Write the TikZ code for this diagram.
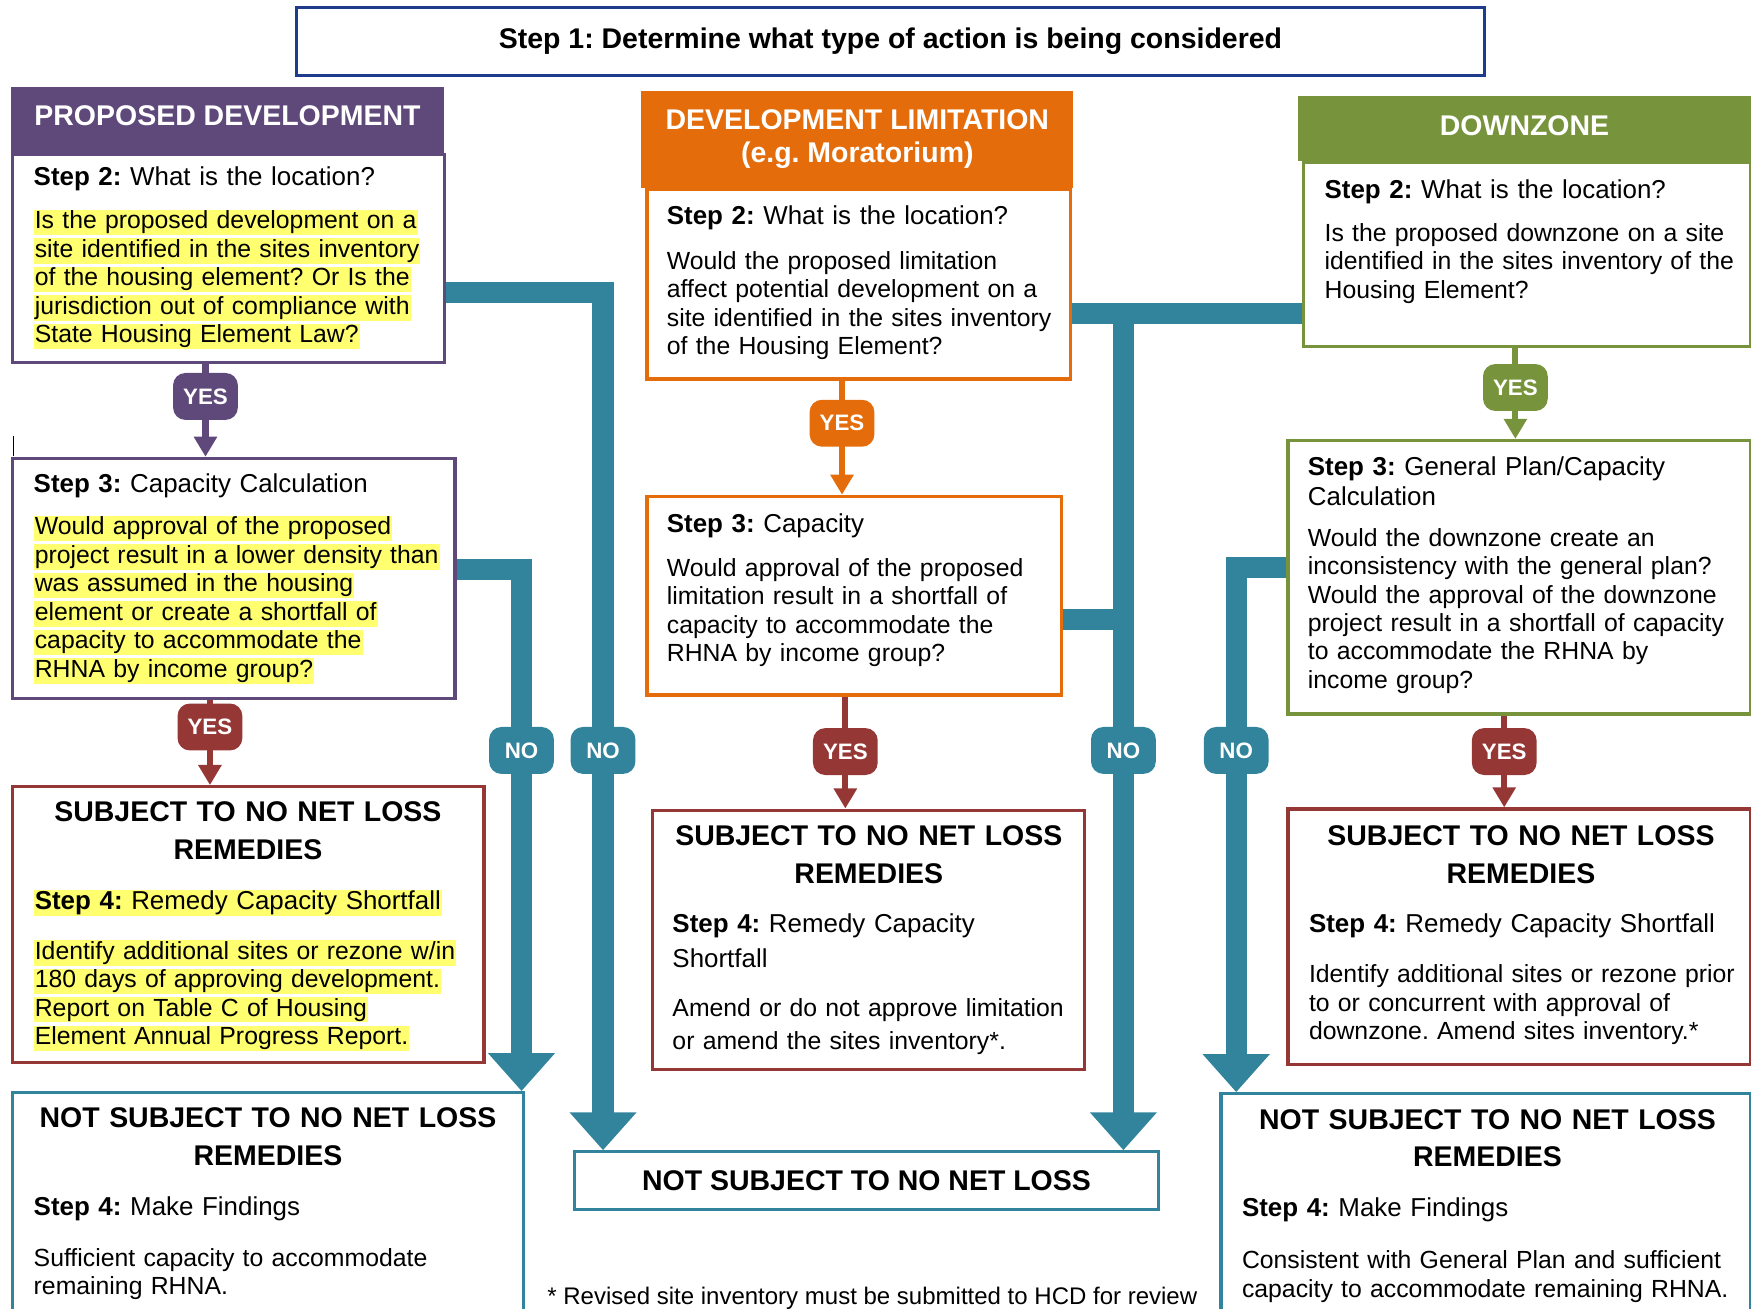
\documentclass[tikz,border=0pt]{standalone}
\usepackage{fontspec}
\setmainfont{Liberation Sans}
\usetikzlibrary{arrows.meta}

\definecolor{stepblue}{HTML}{1F3B8C}
\definecolor{devpurple}{HTML}{5F497A}
\definecolor{limorange}{HTML}{E46C0A}
\definecolor{downgreen}{HTML}{77933C}
\definecolor{remred}{HTML}{953735}
\definecolor{nolossteal}{HTML}{31849B}
\definecolor{hly}{HTML}{FFFF70}

\newcommand{\bodyfont}{\fontsize{22.2}{25.5}\selectfont}
\newcommand{\stepfont}{\fontsize{23.2}{25.5}\selectfont}
\newcommand{\titlefont}{\fontsize{25.5}{34}\selectfont\bfseries}
\newcommand{\headfont}{\fontsize{25.5}{30}\selectfont\bfseries}
\newcommand{\badgefont}{\fontsize{20}{20}\selectfont\bfseries}
\newcommand{\hlt}[1]{{\setlength{\fboxsep}{1pt}\colorbox{hly}{\vphantom{Ig}#1}}}
\frenchspacing

\begin{document}
\begin{tikzpicture}[x=1pt, y=-1pt,
    rim/.style={draw=#1, line width=2.8pt, fill=white, anchor=north west, inner sep=0pt},
    hdr/.style={fill=#1, anchor=north west, inner sep=0pt, align=center, text=white, font=\headfont},
    badge/.style={fill=#1, rounded corners=11pt, minimum width=58pt, minimum height=42pt, inner sep=0pt, text=white, font=\badgefont},
    yesline/.style={draw=#1, line width=5.5pt, -{Triangle[width=20pt,length=18pt]}},
    noline/.style={draw=nolossteal, line width=19pt, -{Triangle[width=58pt,length=34pt]}},
    nobar/.style={draw=nolossteal, line width=19pt},
    stp/.style={anchor=base west, inner sep=0pt, align=left, text width=460pt, font=\stepfont},
    txt/.style={anchor=base west, inner sep=0pt, align=left, text width=460pt, font=\bodyfont},
    ttl/.style={anchor=base, inner sep=0pt, align=center, text width=460pt, font=\titlefont}]
    \useasboundingbox (0,0) rectangle (1568,1172);
    \clip (0,0) rectangle (1568,1172);

    \node[rim=stepblue, minimum width=1064pt, minimum height=61pt, font=\titlefont] (s1) at (264,5) {Step 1: Determine what type of action is being considered};

    \node[rim=devpurple, minimum width=387pt, minimum height=186pt] (pd2) at (10,137) {};
    \node[hdr=devpurple, minimum width=387pt, minimum height=59pt, text depth=8pt] (pdh) at (10,78) {PROPOSED DEVELOPMENT};
    \node[rim=devpurple, minimum width=396pt, minimum height=215pt] (pd3) at (10,409) {};
    \node[rim=remred, minimum width=422pt, minimum height=247pt] (pd4) at (10,703) {};
    \node[rim=nolossteal, minimum width=457pt, minimum height=220pt] (pd5) at (10,977) {};

    \node[rim=limorange, minimum width=379pt, minimum height=170pt] (dl2) at (578,168) {};
    \node[hdr=limorange, minimum width=387pt, minimum height=87pt] (dlh) at (574,81) {DEVELOPMENT LIMITATION\\(e.g. Moratorium)};
    \node[rim=limorange, minimum width=371pt, minimum height=178pt] (dl3) at (578,443) {};
    \node[rim=remred, minimum width=387pt, minimum height=232pt] (dl4) at (583,724) {};
    \node[rim=nolossteal, minimum width=523pt, minimum height=52pt, font=\titlefont] (nsm) at (513,1030) {NOT SUBJECT TO NO NET LOSS};

    \node[rim=downgreen, minimum width=400pt, minimum height=165pt] (dz2) at (1166,144) {};
    \node[hdr=downgreen, minimum width=406pt, minimum height=58pt, text depth=6pt] (dzh) at (1162,86) {DOWNZONE};
    \node[rim=downgreen, minimum width=414pt, minimum height=245pt] (dz3) at (1152,393) {};
    \node[rim=remred, minimum width=414pt, minimum height=229pt] (dz4) at (1152,723) {};
    \node[rim=nolossteal, minimum width=474pt, minimum height=220pt] (dz5) at (1092,978) {};

    \node[stp] (pd2s) at (30,166.4) {\textbf{Step 2:} What is the location?};
    \node[txt] (pd2t) at (30,205) {\hlt{Is the proposed development on a}\\\hlt{site identified in the sites inventory}\\\hlt{of the housing element? Or Is the}\\\hlt{jurisdiction out of compliance with}\\\hlt{State Housing Element Law?}};
    \node[stp] (pd3s) at (30,441.4) {\textbf{Step 3:} Capacity Calculation};
    \node[txt] (pd3t) at (30,479) {\hlt{Would approval of the proposed}\\\hlt{project result in a lower density than}\\\hlt{was assumed in the housing}\\\hlt{element or create a shortfall of}\\\hlt{capacity to accommodate the}\\\hlt{RHNA by income group?}};
    \node[ttl] (pd4h) at (222,736) {SUBJECT TO NO NET LOSS\\REMEDIES};
    \node[stp] (pd4s) at (30,814.4) {\hlt{\textbf{Step 4:} Remedy Capacity Shortfall}};
    \node[txt] (pd4t) at (30,859) {\hlt{Identify additional sites or rezone w/in}\\\hlt{180 days of approving development.}\\\hlt{Report on Table C of Housing}\\\hlt{Element Annual Progress Report.}};
    \node[ttl] (pd5h) at (240,1010) {NOT SUBJECT TO NO NET LOSS\\REMEDIES};
    \node[stp] (pd5s) at (30,1088.4) {\textbf{Step 4:} Make Findings};
    \node[txt] (pd5t) at (30,1134) {Sufficient capacity to accommodate\\remaining RHNA.};

    \node[stp] (dl2s) at (597,201.4) {\textbf{Step 2:} What is the location?};
    \node[txt] (dl2t) at (597,241) {Would the proposed limitation\\affect potential development on a\\site identified in the sites inventory\\of the Housing Element?};
    \node[stp] (dl3s) at (597,476.4) {\textbf{Step 3:} Capacity};
    \node[txt] (dl3t) at (597,516) {Would approval of the proposed\\limitation result in a shortfall of\\capacity to accommodate the\\RHNA by income group?};
    \node[ttl] (dl4h) at (778,757) {SUBJECT TO NO NET LOSS\\REMEDIES};
    \node[stp, font=\fontsize{23.2}{31}\selectfont] (dl4s) at (602,835.4) {\textbf{Step 4:} Remedy Capacity\\Shortfall};
    \node[txt, font=\fontsize{22.2}{30}\selectfont] (dl4t) at (602,910) {Amend or do not approve limitation\\or amend the sites inventory*.};
    \node[anchor=base west, inner sep=0pt, font=\fontsize{21.5}{25}\selectfont] (note) at (490,1168) {* Revised site inventory must be submitted to HCD for review};

    \node[stp] (dz2s) at (1186,177.4) {\textbf{Step 2:} What is the location?};
    \node[txt] (dz2t) at (1186,216) {Is the proposed downzone on a site\\identified in the sites inventory of the\\Housing Element?};
    \node[stp, font=\fontsize{23.2}{27}\selectfont] (dz3s) at (1171,425.4) {\textbf{Step 3:} General Plan/Capacity\\Calculation};
    \node[txt] (dz3t) at (1171,489) {Would the downzone create an\\inconsistency with the general plan?\\Would the approval of the downzone\\project result in a shortfall of capacity\\to accommodate the RHNA by\\income group?};
    \node[ttl] (dz4h) at (1362,757) {SUBJECT TO NO NET LOSS\\REMEDIES};
    \node[stp] (dz4s) at (1172,835.4) {\textbf{Step 4:} Remedy Capacity Shortfall};
    \node[txt] (dz4t) at (1172,880) {Identify additional sites or rezone prior\\to or concurrent with approval of\\downzone. Amend sites inventory.*};
    \node[ttl] (dz5h) at (1332,1011) {NOT SUBJECT TO NO NET LOSS\\REMEDIES};
    \node[stp] (dz5s) at (1112,1089.4) {\textbf{Step 4:} Make Findings};
    \node[txt] (dz5t) at (1112,1136) {Consistent with General Plan and sufficient\\capacity to accommodate remaining RHNA.};

    \draw[noline] (pd2.east |- 0,262) -| (nsm.north -| 540,0);
    \draw[noline] (pd3.east |- 0,510) -| (pd5.north -| 467,0);
    \draw[nobar] (dl2.east |- 0,281) -- (dz2.west |- 0,281);
    \coordinate (j1) at (1006,281);
    \draw[noline] (j1) -- (nsm.north -| j1);
    \draw[nobar] (dl3.east |- 0,555) -- (j1 |- 0,555);
    \draw[noline] (dz3.west |- 0,508) -| (dz5.north -| 1107,0);

    \foreach \bn/\bc/\bx/\by/\src/\dst in {yp1/devpurple/184/355/pd2/pd3, yp2/remred/188/651/pd3/pd4, yd1/limorange/754/379/dl2/dl3, yd2/remred/757/673/dl3/dl4, yz1/downgreen/1357/347/dz2/dz3, yz2/remred/1347/673/dz3/dz4}
    {
        \draw[yesline=\bc] (\src.south -| \bx,0) -- (\dst.north -| \bx,0);
        \node[badge=\bc] (\bn) at (\bx,\by) {YES};
    }
    \foreach \bn/\bx in {n1/467, n2/540, n3/1006, n4/1107}
        \node[badge=nolossteal] (\bn) at (\bx,672) {NO};

    \draw[line width=1pt] (12,390) -- (12,408);
\end{tikzpicture}
\end{document}
